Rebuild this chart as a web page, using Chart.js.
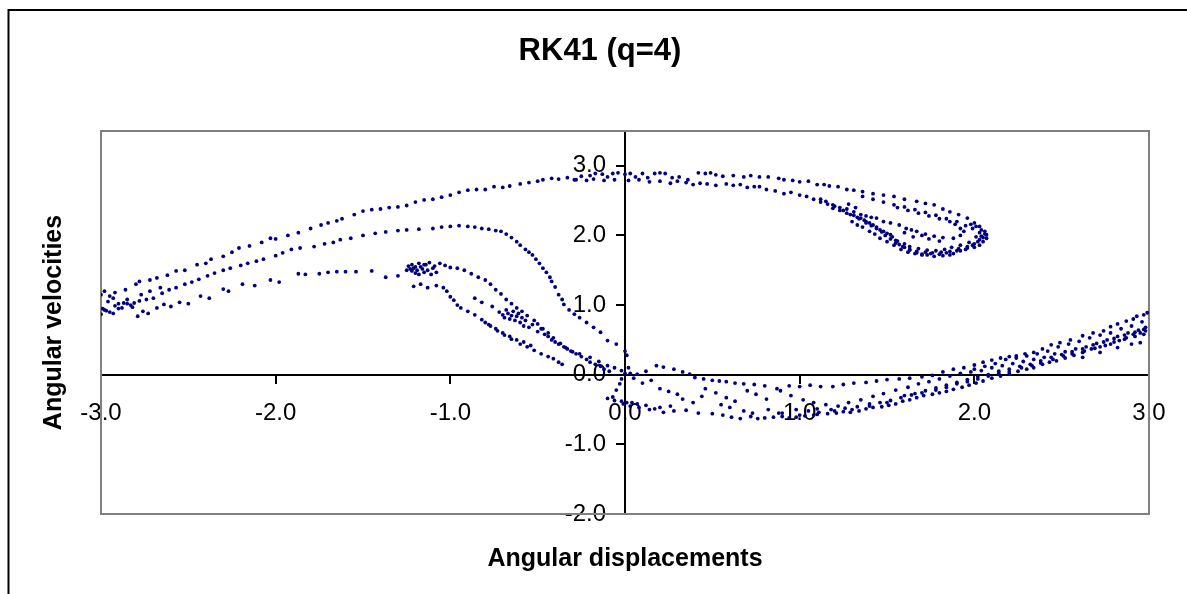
<!DOCTYPE html>
<html>
<head>
<meta charset="utf-8">
<title>RK41 (q=4)</title>
<script src="https://cdn.jsdelivr.net/npm/chart.js@4/dist/chart.umd.min.js"></script>
<style>
  body { margin: 0; background: #fff; }
  canvas { display: block; }
</style>
</head>
<body>
<canvas id="myChart" width="1187" height="594"></canvas>
<script>
// axis ticks
let x_ticks = [-3, -2, -1, 0, 1, 2, 3];
let y_ticks = [-2, -1, 0, 1, 2, 3];

// upper arc, from the left edge over the top into the hook
let upper_x = [-3.00,-2.98,-2.95,-2.92,-2.86,-2.80,-2.78,-2.72,-2.68,-2.62,-2.57,-2.52,-2.45,-2.40,-2.37,-2.30,-2.25,-2.21,-2.15,-2.08,-2.03,-2.00,-1.93,-1.87,-1.80,-1.74,-1.70,-1.65,-1.62,-1.55,-1.50,-1.45,-1.40,-1.35,-1.30,-1.25,-1.20,-1.15,-1.10,-1.05,-1.00,-0.95,-0.90,-0.85,-0.80,-0.75,-0.70,-0.66,-0.60,-0.55,-0.50,-0.47,-0.42,-0.38,-0.33,-0.29,-0.25,-0.20,-0.17,-0.13,-0.10,-0.07,-0.04,0.00,0.03,0.06,0.10,0.13,0.17,0.20,0.23,0.27,0.31,0.36,0.42,0.46,0.49,0.52,0.56,0.62,0.68,0.72,0.77,0.82,0.88,0.91,0.96,1.00,1.05,1.10,1.14,1.17,1.22,1.27,1.31,1.36,1.42,1.48,1.54,1.60,1.67,1.72,1.77,1.82,1.86,1.91,1.96,2.00,2.03,2.06,2.07,2.07,2.05,2.03,2.00,1.96,1.92,1.88,1.86,1.82,1.77,1.73,1.70,1.67,1.63,1.60,1.57,1.55,1.52,1.48,1.44,1.42,1.38,1.35,1.31,1.27,1.23,1.19,1.15,1.12];
let upper_y = [1.15,1.20,1.13,1.18,1.22,1.30,1.34,1.36,1.39,1.43,1.49,1.50,1.58,1.60,1.66,1.70,1.76,1.82,1.85,1.90,1.96,1.95,2.00,2.04,2.10,2.15,2.18,2.21,2.24,2.30,2.35,2.37,2.38,2.40,2.41,2.43,2.48,2.51,2.52,2.55,2.58,2.62,2.65,2.66,2.66,2.70,2.69,2.71,2.74,2.76,2.78,2.80,2.82,2.81,2.83,2.80,2.85,2.86,2.89,2.88,2.84,2.89,2.90,2.88,2.89,2.84,2.89,2.83,2.89,2.90,2.89,2.83,2.84,2.80,2.90,2.89,2.90,2.87,2.85,2.86,2.84,2.86,2.84,2.84,2.82,2.80,2.79,2.77,2.78,2.73,2.73,2.71,2.70,2.66,2.65,2.63,2.60,2.58,2.56,2.52,2.49,2.46,2.44,2.38,2.34,2.30,2.25,2.18,2.13,2.06,2.01,1.96,1.91,1.86,1.83,1.82,1.78,1.74,1.72,1.71,1.70,1.72,1.73,1.75,1.80,1.83,1.87,1.93,2.01,2.06,2.10,2.15,2.20,2.25,2.29,2.32,2.36,2.39,2.49,2.52];

// second line under the top, curling inside the hook
let inner_x = [-0.28,-0.22,-0.18,-0.12,-0.06,0.02,0.08,0.14,0.20,0.26,0.30,0.35,0.39,0.43,0.47,0.52,0.58,0.62,0.66,0.70,0.74,0.77,0.81,0.86,0.91,0.95,1.00,1.04,1.08,1.12,1.16,1.19,1.23,1.27,1.31,1.35,1.38,1.41,1.44,1.48,1.52,1.57,1.61,1.64,1.67,1.72,1.77,1.82,1.88,1.92,1.94,1.92,1.89,1.86,1.80,1.74,1.68,1.62,1.56];
let inner_y = [2.80,2.79,2.81,2.79,2.80,2.79,2.80,2.77,2.78,2.75,2.78,2.76,2.73,2.75,2.74,2.72,2.74,2.72,2.73,2.69,2.70,2.70,2.66,2.64,2.60,2.62,2.58,2.56,2.52,2.48,2.45,2.44,2.40,2.38,2.34,2.30,2.28,2.26,2.25,2.20,2.18,2.15,2.10,2.08,2.06,2.02,1.99,1.97,1.96,2.00,2.06,2.10,2.16,2.20,2.24,2.28,2.32,2.36,2.40];

// dense lower side of the hook
let hook_x = [1.30,1.33,1.36,1.40,1.43,1.46,1.50,1.54,1.58,1.62,1.66,1.70,1.75,1.80,1.84,1.90,1.95,1.99,2.02,2.05,2.06,2.04,2.01,1.98,1.34,1.38,1.41,1.46,1.50,1.53,1.56,1.60,1.63,1.68,1.73,1.78,1.83,1.87,1.92,1.97,2.01,1.20,1.25,1.29,1.33,1.37,1.40,1.44,1.47,1.49,1.52,1.55,1.59,1.63,1.67,1.72,1.76,1.81,1.86,1.91,1.96,2.00,2.03,2.04,2.03,1.99,1.95,1.90,1.84,1.78,1.72,1.66,1.60,1.54,1.48,1.42,1.36,1.28,1.32,1.70,1.74,1.80,1.60,1.65];
let hook_y = [2.20,2.15,2.12,2.06,2.02,1.96,1.91,1.86,1.80,1.76,1.74,1.72,1.74,1.73,1.75,1.78,1.80,1.86,1.91,1.97,2.02,2.08,2.13,2.16,2.24,2.18,2.14,2.08,2.03,1.98,1.92,1.88,1.84,1.81,1.79,1.78,1.80,1.83,1.86,1.90,1.98,2.42,2.36,2.30,2.26,2.22,2.18,2.12,2.05,2.00,1.95,1.89,1.84,1.79,1.77,1.76,1.75,1.76,1.77,1.81,1.84,1.88,1.94,1.99,2.04,2.10,2.14,2.20,2.24,2.29,2.33,2.37,2.41,2.44,2.48,2.52,2.56,2.45,2.40,2.00,1.95,1.92,2.04,1.98];

// middle band: rises to x=-1, falls through the origin, then runs along the bottom right
let middle_x = [-3.00,-2.98,-2.95,-2.92,-2.88,-2.85,-2.81,-2.78,-2.74,-2.70,-2.65,-2.61,-2.57,-2.52,-2.48,-2.44,-2.39,-2.35,-2.30,-2.26,-2.20,-2.16,-2.11,-2.07,-2.00,-1.96,-1.91,-1.86,-1.78,-1.72,-1.67,-1.63,-1.57,-1.50,-1.43,-1.37,-1.30,-1.25,-1.18,-1.10,-1.05,-1.00,-0.95,-0.90,-0.86,-0.82,-0.78,-0.74,-0.71,-0.68,-0.65,-0.62,-0.60,-0.57,-0.55,-0.53,-0.51,-0.49,-0.47,-0.45,-0.43,-0.42,-0.40,-0.38,-0.36,-0.35,-0.32,-0.29,-0.26,-0.22,-0.18,-0.14,-0.10,-0.05,0.00,0.01,0.02,0.00,-0.02,-0.03,-0.05,-0.07,-0.10,-0.06,-0.02,0.01,0.04,0.07,0.12,0.17,0.22,0.28,0.35,0.42,0.50,0.56,0.61,0.66,0.72,0.76,0.80,0.85,0.90,0.94,0.98,1.03,1.08,1.11,1.16,1.21,1.25,1.29,1.34,1.38,1.42,1.47,1.51,1.55,1.59,1.63,1.67,1.71,1.76,1.80,1.84,1.88,1.93,1.97,2.01,2.05,2.10,2.15,2.20,2.25,2.30,2.34,2.39,2.43,2.47,2.52,2.57,2.62,2.67,2.72,2.78,2.83,2.87,2.91,2.95,2.98];
let middle_y = [0.87,0.93,0.90,0.99,0.96,1.02,1.03,1.06,1.08,1.10,1.17,1.22,1.25,1.30,1.33,1.37,1.42,1.46,1.50,1.53,1.57,1.60,1.63,1.66,1.71,1.75,1.80,1.82,1.84,1.88,1.90,1.94,1.96,2.00,2.03,2.05,2.07,2.08,2.09,2.10,2.12,2.13,2.14,2.13,2.12,2.10,2.09,2.07,2.06,2.02,1.97,1.91,1.86,1.80,1.76,1.72,1.66,1.60,1.53,1.47,1.40,1.34,1.26,1.15,1.08,1.01,0.93,0.87,0.82,0.75,0.68,0.61,0.49,0.44,0.34,0.28,0.10,0.02,-0.06,-0.13,-0.22,-0.32,-0.34,-0.37,-0.38,-0.40,-0.40,-0.42,-0.44,-0.49,-0.54,-0.52,-0.51,-0.55,-0.56,-0.58,-0.61,-0.63,-0.60,-0.63,-0.62,-0.61,-0.60,-0.62,-0.61,-0.59,-0.58,-0.54,-0.56,-0.55,-0.53,-0.54,-0.52,-0.49,-0.47,-0.46,-0.44,-0.42,-0.38,-0.36,-0.33,-0.30,-0.28,-0.26,-0.24,-0.21,-0.18,-0.15,-0.12,-0.09,-0.05,-0.02,0.01,0.05,0.08,0.10,0.15,0.18,0.20,0.24,0.28,0.32,0.37,0.40,0.44,0.49,0.53,0.58,0.60,0.63];

// lower band: left edge to the knot near x=-1.2, then down through zero and up the right side
let lower_x = [-2.97,-2.93,-2.90,-2.87,-2.83,-2.79,-2.76,-2.73,-2.68,-2.64,-2.60,-2.55,-2.50,-2.43,-2.38,-2.30,-2.27,-2.19,-2.12,-2.03,-1.98,-1.87,-1.83,-1.75,-1.70,-1.65,-1.60,-1.54,-1.45,-1.37,-1.30,-1.25,-1.22,-1.20,-1.18,-1.15,-1.12,-1.09,-1.06,-1.03,-1.00,-0.96,-0.92,-0.88,-0.84,-0.80,-0.77,-0.74,-0.71,-0.68,-0.65,-0.62,-0.59,-0.56,-0.52,-0.50,-0.47,-0.44,-0.41,-0.37,-0.34,-0.31,-0.26,-0.20,-0.15,-0.10,-0.06,-0.02,0.03,0.07,0.12,0.18,0.22,0.28,0.33,0.37,0.40,0.45,0.50,0.54,0.58,0.63,0.68,0.74,0.80,0.87,0.94,1.00,1.06,1.12,1.19,1.25,1.31,1.38,1.44,1.50,1.57,1.63,1.70,1.76,1.82,1.88,1.94,2.00,2.05,2.10,2.15,2.20,2.24,2.29,2.34,2.39,2.44,2.49,2.55,2.62,2.68,2.74,2.78,2.82,2.87,2.91,2.93,2.97,2.99,-2.99,-2.96,-2.93,-2.90,-2.85,-2.82,-2.77,-2.72,-2.66];
let lower_y = [0.92,0.88,0.95,1.03,1.00,0.84,0.91,0.88,0.96,1.01,0.98,1.04,1.02,1.13,1.10,1.23,1.20,1.30,1.28,1.36,1.33,1.45,1.44,1.45,1.47,1.48,1.48,1.48,1.49,1.40,1.42,1.50,1.58,1.55,1.60,1.58,1.61,1.56,1.60,1.57,1.54,1.53,1.50,1.45,1.40,1.36,1.30,1.22,1.16,1.08,1.02,0.96,0.91,0.85,0.78,0.73,0.66,0.60,0.53,0.45,0.39,0.34,0.30,0.25,0.19,0.13,0.10,0.06,0.02,0.01,0.05,0.13,0.11,0.08,0.04,0.01,-0.04,-0.06,-0.08,-0.09,-0.10,-0.12,-0.13,-0.14,-0.16,-0.20,-0.16,-0.17,-0.15,-0.17,-0.17,-0.14,-0.12,-0.11,-0.09,-0.07,-0.06,-0.05,-0.03,-0.01,0.04,0.08,0.10,0.14,0.18,0.21,0.24,0.26,0.27,0.30,0.32,0.37,0.43,0.46,0.50,0.56,0.60,0.63,0.69,0.73,0.77,0.80,0.84,0.86,0.89,0.95,1.05,1.10,1.02,1.08,0.97,1.15,1.20,1.25];

// knot near (-1.2, 1.5) and the strand falling from it
let knot_x = [-1.24,-1.23,-1.22,-1.21,-1.20,-1.19,-1.18,-1.17,-1.16,-1.15,-1.14,-1.13,-1.11,-1.10,-1.08,-1.21,-1.17,-1.13,-1.08,-1.04,-1.02,-1.00,-0.98,-0.96,-0.94,-0.90,-0.86,-0.82,-0.80,-0.77,-0.73,-0.69,-0.65,-0.60,-0.56,-0.52,-0.48,-0.44,-0.41,-0.38,-0.36];
let knot_y = [1.56,1.52,1.49,1.53,1.46,1.50,1.44,1.55,1.52,1.47,1.58,1.50,1.44,1.53,1.47,1.27,1.30,1.25,1.28,1.25,1.20,1.12,1.07,1.00,0.96,0.91,0.86,0.79,0.75,0.70,0.63,0.57,0.51,0.44,0.40,0.35,0.30,0.26,0.23,0.18,0.15];

// knot near (-0.65, 0.85) and its tail towards the origin
let knot2_x = [-0.72,-0.70,-0.69,-0.68,-0.67,-0.66,-0.65,-0.64,-0.63,-0.62,-0.61,-0.60,-0.59,-0.58,-0.57,-0.55,-0.53,-0.50,-0.48,-0.46,-0.44,-0.42,-0.40,-0.38,-0.35,-0.33,-0.30,-0.28,-0.25,-0.22,-0.20,-0.17,-0.14,-0.12,-0.09,-0.76,-0.82,-0.86,-0.78,-0.74,-0.70,-0.66,-0.62,-0.58,-0.54];
let knot2_y = [0.90,0.86,0.82,0.93,0.88,0.80,0.85,0.91,0.78,0.84,0.88,0.75,0.82,0.70,0.78,0.68,0.72,0.62,0.66,0.58,0.55,0.50,0.47,0.44,0.40,0.37,0.33,0.30,0.26,0.22,0.18,0.15,0.12,0.08,0.05,0.98,1.04,1.10,0.72,0.66,0.60,0.55,0.50,0.47,0.42];

// scattered points along the bottom right bands
let right_x = [0.05,0.10,0.15,0.20,0.25,0.30,0.33,0.39,0.44,0.46,0.52,0.58,0.63,0.70,0.75,0.81,0.89,0.95,1.02,1.08,1.15,1.22,1.28,1.35,1.42,1.48,1.55,1.62,1.68,1.74,1.80,1.86,1.92,1.98,2.04,2.10,2.16,2.22,2.28,2.34,2.40,2.46,2.52,2.58,2.64,2.70,2.76,2.82,2.88,2.94,2.98,2.62,2.72,2.82,2.90,2.95,-0.01,0.03,0.08,0.14,0.20,0.26,0.55,0.60,0.68,0.73,0.82,0.88,0.98,1.05,1.10,1.18,1.26,1.33,1.40,1.46,1.52,1.58,1.64,1.70,1.78,1.84,1.90,1.96,2.02,2.08,2.14,2.20,2.27,2.33,2.38,2.45,2.51,2.56,2.63,2.69,2.75,2.80,2.86,2.92,2.97,1.60,1.66,1.72,1.78,1.84,1.90,1.96,2.02,2.08,2.14,2.20,2.26,2.32,2.38,2.44,2.50,2.56,2.62,2.68,2.74,2.80,2.86,2.92,2.97,2.00,2.06,2.12,2.18,2.24,2.30,2.36,2.42,2.48,2.54,2.60,2.66,2.72,2.78,2.84,2.90,2.96,0.90,1.00,1.10,1.20,1.30,1.40,1.50];
let right_y = [-0.05,-0.12,-0.08,-0.20,-0.24,-0.28,-0.35,-0.40,-0.31,-0.20,-0.26,-0.33,-0.38,-0.23,-0.28,-0.35,-0.23,-0.30,-0.36,-0.40,-0.43,-0.45,-0.40,-0.36,-0.31,-0.27,-0.22,-0.18,-0.13,-0.10,-0.06,-0.02,0.02,0.04,0.06,0.10,0.13,0.16,0.19,0.22,0.25,0.30,0.33,0.37,0.40,0.45,0.50,0.55,0.60,0.64,0.68,0.25,0.32,0.39,0.44,0.46,-0.42,-0.45,-0.47,-0.50,-0.47,-0.45,-0.43,-0.47,-0.52,-0.55,-0.50,-0.55,-0.50,-0.52,-0.49,-0.50,-0.48,-0.46,-0.42,-0.40,-0.37,-0.33,-0.29,-0.26,-0.22,-0.18,-0.13,-0.10,-0.06,-0.02,0.02,0.04,0.10,0.13,0.17,0.22,0.27,0.30,0.34,0.38,0.42,0.47,0.51,0.55,0.58,-0.30,-0.27,-0.23,-0.19,-0.15,-0.11,-0.07,-0.03,0.00,0.05,0.08,0.12,0.15,0.20,0.25,0.29,0.33,0.37,0.43,0.47,0.52,0.57,0.61,0.65,0.08,0.12,0.16,0.22,0.24,0.27,0.30,0.34,0.40,0.44,0.48,0.53,0.57,0.60,0.66,0.70,0.76,-0.55,-0.58,-0.57,-0.52,-0.50,-0.45,-0.40];

let strands = [
  [upper_x, upper_y],
  [inner_x, inner_y],
  [hook_x, hook_y],
  [middle_x, middle_y],
  [lower_x, lower_y],
  [knot_x, knot_y],
  [knot2_x, knot2_y],
  [right_x, right_y]
];

let datasets = strands.map(function (s) {
  return {
    data: s[0].map(function (x, i) { return { x: x, y: s[1][i] }; }),
    backgroundColor: '#000080',
    borderColor: '#000080',
    borderWidth: 0,
    pointRadius: 1.9,
    pointHoverRadius: 1.9
  };
});

let font_family = '"Liberation Sans", Arial, sans-serif';

// frame, plot border and the three titles
let frame_plugin = {
  id: 'frame',
  beforeDatasetsDraw(chart) {
    let ctx = chart.ctx;
    let a = chart.chartArea;
    ctx.save();
    ctx.strokeStyle = '#808080';
    ctx.lineWidth = 2;
    ctx.strokeRect(a.left, a.top, a.right - a.left, a.bottom - a.top);
    ctx.restore();
  },
  afterDraw(chart) {
    let ctx = chart.ctx;
    let a = chart.chartArea;
    ctx.save();
    ctx.strokeStyle = '#000';
    ctx.lineWidth = 2;
    ctx.strokeRect(8.5, 10, 1300, 700);

    ctx.fillStyle = '#000';
    ctx.textAlign = 'center';
    ctx.textBaseline = 'alphabetic';
    ctx.font = 'bold 31px ' + font_family;
    ctx.fillText('RK41 (q=4)', 600, 60);

    ctx.font = 'bold 25px ' + font_family;
    ctx.fillText('Angular displacements', (a.left + a.right) / 2, 566);

    ctx.translate(61, (a.top + a.bottom) / 2);
    ctx.rotate(-Math.PI / 2);
    ctx.fillText('Angular velocities', 0, 0);
    ctx.restore();
  }
};

let myChart = document.getElementById("myChart").getContext('2d');
let scatter_chart = new Chart(myChart, {
  type: 'scatter',
  data: { datasets: datasets },
  plugins: [frame_plugin],
  options: {
    responsive: false,
    animation: false,
    devicePixelRatio: 1,
    events: [],
    layout: { padding: { left: 101, right: 38, top: 131, bottom: 80 } },
    plugins: {
      legend: { display: false },
      title: { display: false },
      tooltip: { enabled: false }
    },
    scales: {
      x: {
        type: 'linear',
        min: x_ticks[0],
        max: x_ticks[x_ticks.length - 1],
        position: { y: 0 },
        afterFit: function (s) { s.height = 0; },
        afterBuildTicks: function (s) { s.ticks = x_ticks.map(function (v) { return { value: v }; }); },
        grid: { display: true, drawOnChartArea: false, drawTicks: true, tickLength: 8, color: '#000', lineWidth: 2 },
        border: { display: true, color: '#000', width: 2 },
        ticks: {
          padding: 16,
          maxRotation: 0,
          autoSkip: false,
          color: '#000',
          font: { family: font_family, size: 24 },
          callback: function (v) { return Number(v).toFixed(1); }
        }
      },
      y: {
        type: 'linear',
        min: -2,
        max: 3.5,
        // the x range is symmetric, so the centre of the plot is x = 0
        position: 'center',
        afterFit: function (s) { s.width = 0; },
        afterBuildTicks: function (s) { s.ticks = y_ticks.map(function (v) { return { value: v }; }); },
        grid: { display: true, drawOnChartArea: false, drawTicks: true, tickLength: 8, color: '#000', lineWidth: 2 },
        border: { display: true, color: '#000', width: 2 },
        ticks: {
          padding: 11,
          autoSkip: false,
          color: '#000',
          font: { family: font_family, size: 24 },
          callback: function (v) { return Number(v).toFixed(1); }
        }
      }
    }
  }
});
</script>
</body>
</html>
